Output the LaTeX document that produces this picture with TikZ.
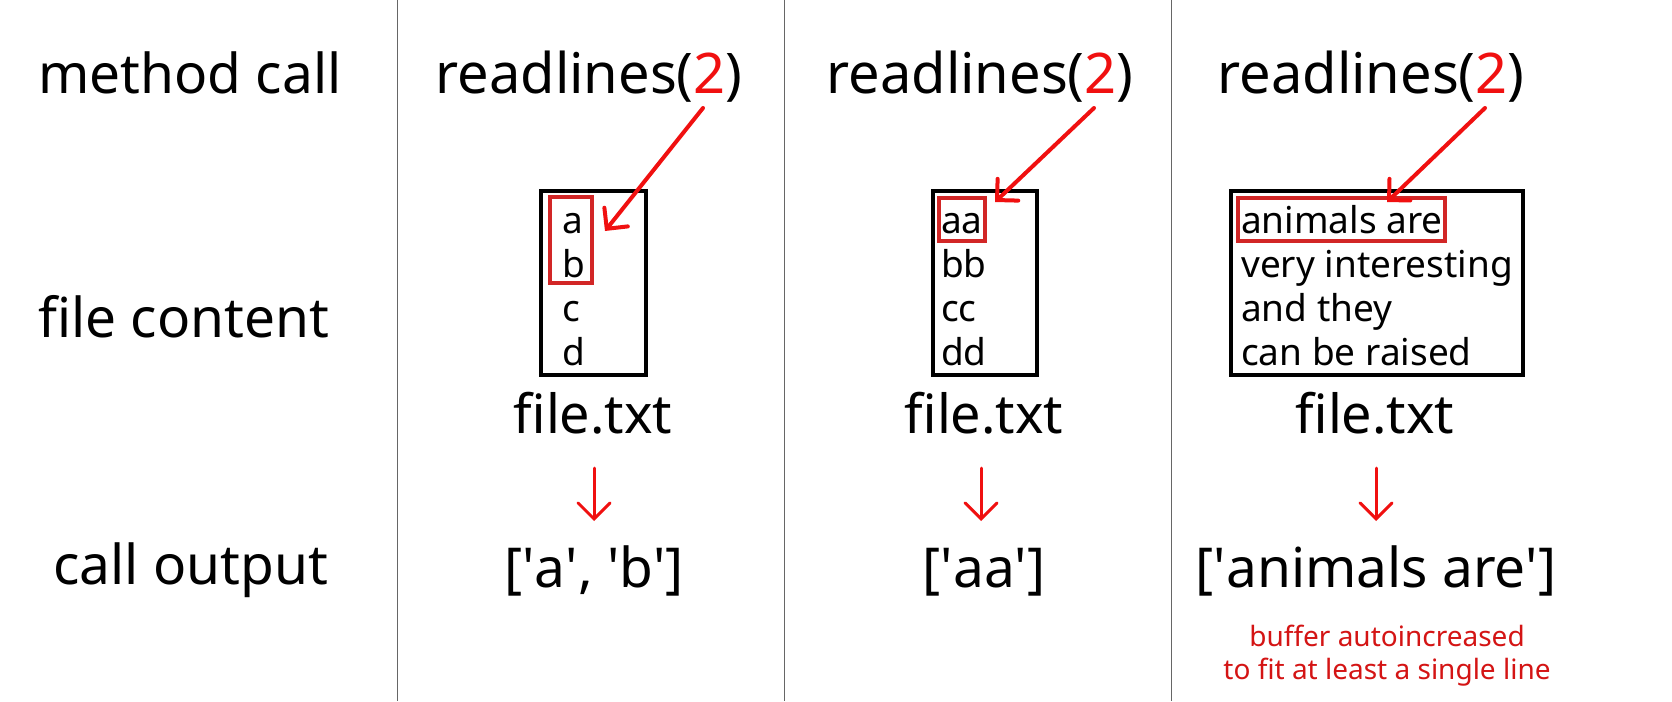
\documentclass[tikz,border=0pt]{standalone}
\usepackage{fontspec}
\setmainfont{Noto Sans}
\usetikzlibrary{arrows.meta}
\definecolor{arrred}{HTML}{F01010}
\definecolor{boxred}{HTML}{D22626}
\definecolor{notered}{HTML}{D41414}
\definecolor{divgray}{HTML}{666666}
\newcommand{\sq}{\textquotesingle}
\begin{document}
\begin{tikzpicture}[x=1pt,y=-1pt,
  big/.style={font=\fontsize{55}{62}\selectfont, inner sep=0pt, anchor=base},
  rowlabel/.style={font=\fontsize{55}{62}\selectfont, inner sep=0pt, anchor=base west},
  fline/.style={font=\fontsize{37}{44}\selectfont, inner sep=0pt, anchor=base west},
  filebox/.style={draw=black, line width=4pt, inner sep=0pt, minimum width=#1},
  filebox/.default=105pt,
  redbox/.style={draw=boxred, line width=3.2pt, inner sep=0pt},
  callarrow/.style={draw=arrred, line width=4pt, line cap=round, -{Straight Barb[length=15pt,width=30pt,line cap=round]}},
  downarrow/.style={draw=arrred, line width=3pt, line cap=round, -{Straight Barb[length=16pt,width=32pt,line cap=round]}},
  divider/.style={draw=divgray, line width=1pt},
  note/.style={font=\fontsize{28}{33}\selectfont, text=notered, inner sep=0pt, anchor=base}
]
\useasboundingbox (0,0) rectangle (1672,701);
\fill[white] (0,0) rectangle (1672,701);

% dividers
\coordinate (d1t) at (397,0); \coordinate (d1b) at (397,701);
\coordinate (d2t) at (784,0); \coordinate (d2b) at (784,701);
\coordinate (d3t) at (1171,0); \coordinate (d3b) at (1171,701);
\draw[divider] (d1t) -- (d1b);
\draw[divider] (d2t) -- (d2b);
\draw[divider] (d3t) -- (d3b);

% row labels
\node[rowlabel] (lmethod) at (38,93) {method call};
\node[rowlabel] (lcontent) at (38,337) {file content};
\node[rowlabel] (loutput) at (53,584) {call output};

% method calls
\node[big, font=\fontsize{56}{62}\selectfont] (call1) at (589,93) {readlines(\textcolor{arrred}{2})};
\node[big, font=\fontsize{56}{62}\selectfont] (call2) at (980,93) {readlines(\textcolor{arrred}{2})};
\node[big, font=\fontsize{56}{62}\selectfont] (call3) at (1371,93) {readlines(\textcolor{arrred}{2})};

% file boxes
\node[filebox=105pt, minimum height=184pt] (box1) at (593.5,283) {};
\node[filebox=104pt, minimum height=184pt] (box2) at (985,283) {};
\node[filebox=292pt, minimum height=184pt] (box3) at (1377,283) {};

% column 1 lines
\node[fline] (a1) at (562,233) {a};
\node[fline] (b1) at (562,277) {b};
\node[fline] (c1) at (562,321) {c};
\node[fline] (e1) at (562,365) {d};
\node[redbox, minimum width=42pt, minimum height=86pt] (sel1) at (571,240) {};

% column 2 lines
\node[fline] (a2) at (941,233) {aa};
\node[fline] (b2) at (941,277) {bb};
\node[fline] (c2) at (941,321) {cc};
\node[fline] (e2) at (941,365) {dd};
\node[redbox, minimum width=46pt, minimum height=43pt] (sel2) at (962,219.5) {};

% column 3 lines
\node[fline] (a3) at (1241,233) {animals are};
\node[fline] (b3) at (1241,277) {very interesting};
\node[fline] (c3) at (1241,321) {and they};
\node[fline] (e3) at (1241,365) {can be raised};
\node[redbox, minimum width=207pt, minimum height=43pt] (sel3) at (1341.5,219.5) {};

% file names
\node[big, font=\fontsize{54}{62}\selectfont] (fn1) at (593,433) {file.txt};
\node[big, font=\fontsize{54}{62}\selectfont] (fn2) at (984,433) {file.txt};
\node[big, font=\fontsize{54}{62}\selectfont] (fn3) at (1375,433) {file.txt};

% arrows from argument to selection
\coordinate (s1) at (703,108); \coordinate (t1) at (605,231);
\coordinate (s2) at (1094,108); \coordinate (t2) at (995,202);
\coordinate (s3) at (1485,108); \coordinate (t3) at (1387,202);
\draw[callarrow] (s1) -- (t1);
\draw[callarrow] (s2) -- (t2);
\draw[callarrow] (s3) -- (t3);

% down arrows
\coordinate (u1) at (594,468); \coordinate (v1) at (594,521);
\coordinate (u2) at (981,468); \coordinate (v2) at (981,521);
\coordinate (u3) at (1376,468); \coordinate (v3) at (1376,521);
\draw[downarrow] (u1) -- (v1);
\draw[downarrow] (u2) -- (v2);
\draw[downarrow] (u3) -- (v3);

% outputs
\node[big] (out1) at (594,587) {[\sq a\sq, \sq b\sq]};
\node[big] (out2) at (984,587) {[\sq aa\sq]};
\node[big] (out3) at (1376,587) {[\sq animals are\sq]};

% note
\node[note] (note1) at (1387,646) {buffer autoincreased};
\node[note] (note2) at (1387,679) {to fit at least a single line};
\end{tikzpicture}
\end{document}
